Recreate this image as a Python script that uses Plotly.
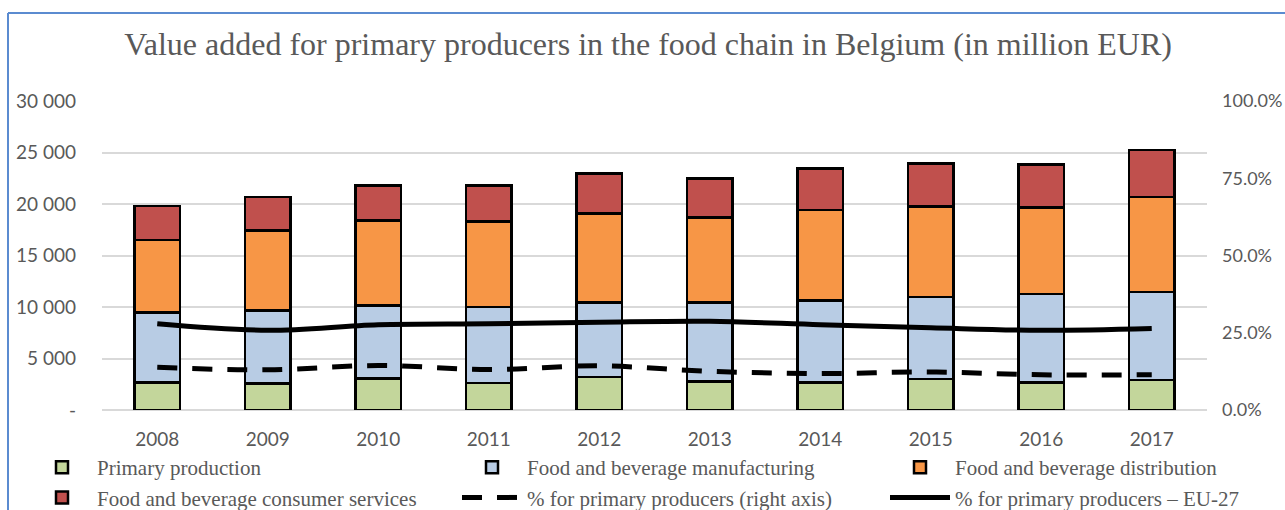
import plotly.graph_objects as go

years = ["2008", "2009", "2010", "2011", "2012", "2013", "2014", "2015", "2016", "2017"]
primary_production = [2690, 2570, 3080, 2630, 3220, 2790, 2690, 3020, 2690, 2890]
fb_manufacturing = [6790, 7100, 7050, 7370, 7230, 7660, 7950, 7950, 8570, 8560]
fb_distribution = [7040, 7750, 8250, 8280, 8650, 8230, 8790, 8780, 8390, 9210]
fb_consumer_services = [3270, 3270, 3400, 3500, 3850, 3790, 4030, 4160, 4170, 4580]
pct_primary_be = [0.138, 0.130, 0.144, 0.131, 0.143, 0.125, 0.118, 0.123, 0.114, 0.114]
pct_primary_eu27 = [0.279, 0.258, 0.276, 0.279, 0.284, 0.287, 0.276, 0.266, 0.258, 0.264]

left_tickvals = [0, 5000, 10000, 15000, 20000, 25000, 30000]
left_ticktext = ["-", "5 000", "10 000", "15 000", "20 000", "25 000", "30 000"]
right_tickvals = [0, 0.25, 0.5, 0.75, 1.0]
right_ticktext = ["0.0%", "25.0%", "50.0%", "75.0%", "100.0%"]

W, H = 1285, 510
L, R, T, B = 102, 78, 101, 100
pw, ph = W - L - R, H - T - B

def px_x(p):
    return (p - L) / pw

def px_y(p):
    return (H - B - p) / ph

bar_line = dict(color="black", width=2.5)
fig = go.Figure()
for name, vals, col, leg in [
    ("Primary production", primary_production, "#C3D69B", "legend"),
    ("Food and beverage manufacturing", fb_manufacturing, "#B8CCE4", "legend2"),
    ("Food and beverage distribution", fb_distribution, "#F79646", "legend3"),
    ("Food and beverage consumer services", fb_consumer_services, "#C0504D", "legend"),
]:
    fig.add_trace(go.Bar(x=years, y=vals, name=name, legend=leg,
                         marker=dict(color=col, line=bar_line)))

fig.add_trace(go.Scatter(x=years, y=pct_primary_be, name="% for primary producers (right axis)",
                         yaxis="y2", mode="lines", legend="legend2",
                         line=dict(color="black", width=5, dash="20px,15px", shape="spline")))
fig.add_trace(go.Scatter(x=years, y=pct_primary_eu27, name="% for primary producers – EU-27",
                         yaxis="y2", mode="lines", legend="legend3",
                         line=dict(color="black", width=5, shape="spline")))

tick_font = dict(family="Lato", size=19, color="#595959")
legend_font = dict(family="Liberation Serif", size=21, color="#595959")
leg_common = dict(orientation="v", xanchor="left", y=px_y(447), yanchor="top",
                  font=legend_font, itemwidth=60, traceorder="normal",
                  bgcolor="rgba(0,0,0,0)", tracegroupgap=0)

fig.update_layout(
    width=W, height=H,
    margin=dict(l=L, r=R, t=T, b=B, autoexpand=False),
    paper_bgcolor="white", plot_bgcolor="white",
    barmode="stack", bargap=0.59,
    title=dict(text="Value added for primary producers in the food chain in Belgium (in million EUR)",
               font=dict(family="Liberation Serif", size=32, color="#595959"),
               x=px_x(648), xanchor="center", xref="paper",
               y=1 - 44 / H, yanchor="middle", yref="container"),
    xaxis=dict(tickfont=tick_font, showgrid=False, showline=False, ticks="",
               ticklabelstandoff=16),
    yaxis=dict(range=[0, 30000], tickvals=left_tickvals, ticktext=left_ticktext,
               tickfont=tick_font, showgrid=True, gridcolor="#D9D9D9", gridwidth=1.5,
               zeroline=True, zerolinecolor="#D9D9D9", zerolinewidth=1.5,
               showline=False, ticks="", ticklabelstandoff=25),
    yaxis2=dict(range=[0, 1], tickvals=right_tickvals, ticktext=right_ticktext,
                overlaying="y", side="right", tickfont=dict(family="Lato", size=18, color="#595959"),
                showgrid=False, zeroline=False, showline=False, ticks="", ticklabelstandoff=14),
    legend=dict(x=px_x(27), **leg_common),
    legend2=dict(x=px_x(457), **leg_common),
    legend3=dict(x=px_x(885), **leg_common),
    showlegend=True,
)

border = dict(color="#5B8BD0", width=2)
fig.add_shape(type="line", xref="paper", yref="paper", x0=px_x(8), x1=px_x(W), y0=px_y(13), y1=px_y(13), line=border)
fig.add_shape(type="line", xref="paper", yref="paper", x0=px_x(8), x1=px_x(8), y0=px_y(13), y1=px_y(H), line=border)

fig.write_html("out.html", config={"displayModeBar": False},
               post_script="document.body.style.margin='0';")
